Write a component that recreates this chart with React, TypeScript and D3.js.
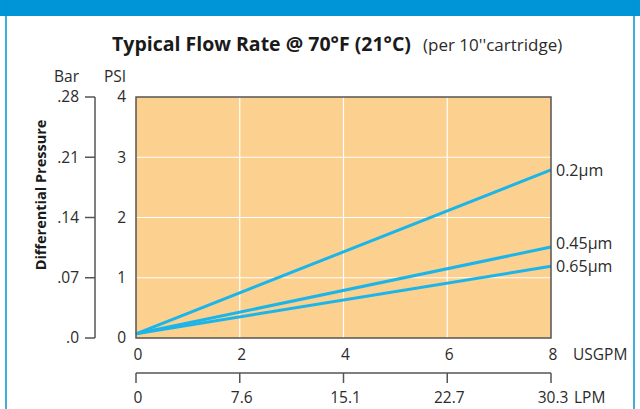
import { useEffect, useRef } from "react";
import * as d3 from "d3";

// Flow (USGPM) vs differential pressure (PSI) per cartridge rating
const USGPM_TICKS = [0, 2, 4, 6, 8];
const LPM_LABELS = ["0", "7.6", "15.1", "22.7", "30.3"];
const PSI_TICKS = [0, 1, 2, 3, 4];
const BAR_LABELS = [".0", ".07", ".14", ".21", ".28"];

const SERIES_NAMES = ["0.2µm", "0.45µm", "0.65µm"];
const FLOW = [0, 8];
const PSI_02 = [0.07, 2.79];
const PSI_045 = [0.07, 1.51];
const PSI_065 = [0.07, 1.19];

const W = 640;
const H = 409;
const PLOT = { left: 136, top: 97, right: 551, bottom: 338 };
const FONT = "'Open Sans', Lato, sans-serif";
const FS = 15.5;
const TEXT = "#2b2b2b";
const AXIS = "#555";

function App() {
  const svgRef = useRef<SVGSVGElement>(null);

  useEffect(() => {
    document.body.style.margin = "0";
    const svg = svgRef.current;
    if (!svg) return;
    const root = d3.select(svg);
    root.selectAll("*").remove();

    const x = d3.scaleLinear().domain([0, 8]).range([PLOT.left, PLOT.right]);
    const y = d3.scaleLinear().domain([0, 4]).range([PLOT.bottom, PLOT.top]);

    const label = (tx: number, ty: number, s: string) =>
      root
        .append("text")
        .attr("x", tx)
        .attr("y", ty)
        .attr("font-family", FONT)
        .attr("font-size", FS)
        .attr("fill", TEXT)
        .text(s);

    // Frame
    root.append("rect").attr("x", 0).attr("y", 0).attr("width", W).attr("height", 16).attr("fill", "#0095d6");
    root.append("line").attr("x1", 6).attr("x2", 6).attr("y1", 0).attr("y2", H).attr("stroke", "#0095d6").attr("stroke-width", 1.5);
    root.append("line").attr("x1", 634).attr("x2", 634).attr("y1", 0).attr("y2", H).attr("stroke", "#0095d6").attr("stroke-width", 1.5);

    // Title
    const title = root
      .append("text")
      .attr("x", 112)
      .attr("y", 51)
      .attr("font-family", FONT)
      .attr("fill", "#1a1a1a");
    title
      .append("tspan")
      .attr("font-size", 19.5)
      .attr("font-weight", 700)
      .text("Typical Flow Rate @ 70°F (21°C)");
    title
      .append("tspan")
      .attr("x", 423)
      .attr("font-size", 17)
      .attr("fill", TEXT)
      .text("(per 10''cartridge)");

    // Plot background
    root
      .append("rect")
      .attr("x", PLOT.left)
      .attr("y", PLOT.top)
      .attr("width", PLOT.right - PLOT.left)
      .attr("height", PLOT.bottom - PLOT.top)
      .attr("fill", "#fcd08f");

    // Grid
    root
      .append("g")
      .selectAll("line")
      .data(USGPM_TICKS.slice(1, -1))
      .join("line")
      .attr("x1", (d) => x(d))
      .attr("x2", (d) => x(d))
      .attr("y1", PLOT.top)
      .attr("y2", PLOT.bottom)
      .attr("stroke", "#fff")
      .attr("stroke-width", 1.2);
    root
      .append("g")
      .selectAll("line")
      .data(PSI_TICKS.slice(1, -1))
      .join("line")
      .attr("x1", PLOT.left)
      .attr("x2", PLOT.right)
      .attr("y1", (d) => y(d))
      .attr("y2", (d) => y(d))
      .attr("stroke", "#fff")
      .attr("stroke-width", 1.2);

    // Lines
    const series = [PSI_02, PSI_045, PSI_065];
    const line = d3
      .line<number>()
      .x((_, i) => x(FLOW[i]))
      .y((d) => y(d));
    root
      .append("g")
      .selectAll("path")
      .data(series)
      .join("path")
      .attr("d", (d) => line(d))
      .attr("fill", "none")
      .attr("stroke", "#1cb5ea")
      .attr("stroke-width", 3);

    // Plot border
    root
      .append("rect")
      .attr("x", PLOT.left)
      .attr("y", PLOT.top)
      .attr("width", PLOT.right - PLOT.left)
      .attr("height", PLOT.bottom - PLOT.top)
      .attr("fill", "none")
      .attr("stroke", AXIS)
      .attr("stroke-width", 1.5);

    // Series labels
    const labelDy = [0, -4, 0];
    root
      .append("g")
      .selectAll("text")
      .data(series)
      .join("text")
      .attr("x", PLOT.right + 5)
      .attr("y", (d, i) => y(d[d.length - 1]) + labelDy[i])
      .attr("dy", "0.35em")
      .attr("font-family", FONT)
      .attr("font-size", 16)
      .attr("fill", TEXT)
      .text((_, i) => SERIES_NAMES[i]);

    // PSI labels
    root
      .append("g")
      .selectAll("text")
      .data(PSI_TICKS)
      .join("text")
      .attr("x", 126)
      .attr("y", (d) => y(d))
      .attr("dy", "0.35em")
      .attr("text-anchor", "end")
      .attr("font-family", FONT)
      .attr("font-size", FS)
      .attr("fill", TEXT)
      .text((d) => d);

    // Bar axis
    const barAxis = root.append("g");
    barAxis
      .append("line")
      .attr("x1", 95)
      .attr("x2", 95)
      .attr("y1", y(0))
      .attr("y2", y(4))
      .attr("stroke", AXIS)
      .attr("stroke-width", 1.5);
    barAxis
      .selectAll("line.tick")
      .data(PSI_TICKS)
      .join("line")
      .attr("class", "tick")
      .attr("x1", 85)
      .attr("x2", 95)
      .attr("y1", (d) => y(d))
      .attr("y2", (d) => y(d))
      .attr("stroke", AXIS)
      .attr("stroke-width", 1.5);
    barAxis
      .selectAll("text")
      .data(PSI_TICKS)
      .join("text")
      .attr("x", 79)
      .attr("y", (d) => y(d))
      .attr("dy", "0.35em")
      .attr("text-anchor", "end")
      .attr("font-family", FONT)
      .attr("font-size", FS)
      .attr("fill", TEXT)
      .text((_, i) => BAR_LABELS[i]);

    // Unit headers
    label(54, 82, "Bar");
    label(104, 82, "PSI");

    // Y title
    root
      .append("text")
      .attr("transform", `translate(46,195) rotate(-90)`)
      .attr("text-anchor", "middle")
      .attr("font-family", FONT)
      .attr("font-size", 14.5)
      .attr("font-weight", 700)
      .attr("fill", "#1a1a1a")
      .text("Differential Pressure");

    // USGPM labels
    root
      .append("g")
      .selectAll("text")
      .data(USGPM_TICKS)
      .join("text")
      .attr("x", (d) => x(d) + 2)
      .attr("y", 360)
      .attr("text-anchor", "middle")
      .attr("font-family", FONT)
      .attr("font-size", FS)
      .attr("fill", TEXT)
      .text((d) => d);
    label(573, 360, "USGPM");

    // LPM axis
    const lpm = root.append("g");
    lpm
      .append("line")
      .attr("x1", PLOT.left)
      .attr("x2", PLOT.right)
      .attr("y1", 373)
      .attr("y2", 373)
      .attr("stroke", AXIS)
      .attr("stroke-width", 1.5);
    lpm
      .selectAll("line.tick")
      .data(USGPM_TICKS)
      .join("line")
      .attr("class", "tick")
      .attr("x1", (d) => x(d))
      .attr("x2", (d) => x(d))
      .attr("y1", 373)
      .attr("y2", 383)
      .attr("stroke", AXIS)
      .attr("stroke-width", 1.5);
    lpm
      .selectAll("text")
      .data(USGPM_TICKS)
      .join("text")
      .attr("x", (d) => x(d) + 2)
      .attr("y", 403)
      .attr("text-anchor", "middle")
      .attr("font-family", FONT)
      .attr("font-size", FS)
      .attr("fill", TEXT)
      .text((_, i) => LPM_LABELS[i]);
    label(574, 403, "LPM");
  }, []);

  return <svg ref={svgRef} width={W} height={H} style={{ display: "block", background: "#fff" }} />;
}

export default App;
